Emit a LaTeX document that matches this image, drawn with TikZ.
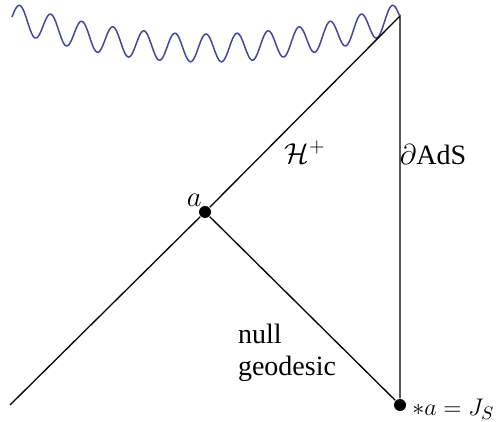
\documentclass[tikz,border=0pt]{standalone}
\usepackage{amsmath,amssymb}
\usepackage{fontspec}
\setmainfont{Liberation Serif}
\newfontfamily\labelfont{Liberation Serif}
\usetikzlibrary{positioning}
\definecolor{wavecol}{RGB}{70,70,160}

\begin{document}
\begin{tikzpicture}[x=0.5pt,y=-0.5pt,line width=0.65pt,
  dot/.style={circle,fill,inner sep=0pt,minimum size=6pt},
  wave/.style={draw=wavecol,line width=0.75pt},
  lbl/.style={font=\labelfont\fontsize{14}{16}\selectfont,inner sep=1pt}]
\useasboundingbox (0,0) rectangle (497,422);
\coordinate (T) at (400,16);
\coordinate (L) at (10,405);
\node[dot] (a) at (205,212) {};
\node[dot] (J) at (400,405) {};

% singularity
\draw[wave] plot[domain=0:1,samples=400,smooth]
  ({12+388*\x},{17+124*\x*(1-\x)-14*sin(4500*\x)});

\draw (L) -- (a) -- (T) -- (J) -- (a);

\node[lbl] (H) at (305,152) {$\mathcal{H}^+$};
\node[lbl] (bdy) at (433,155) {$\partial$AdS};
\node[lbl,above left=-1pt and -2pt of a] (al) {$a$};
\node[lbl,font=\fontsize{13}{15}\selectfont,right=1.5pt of J,yshift=-2pt] (Jl) {$*a = J_S$};
\node[lbl,align=left] (ng) at (287,353) {null\\geodesic};
\end{tikzpicture}
\end{document}
